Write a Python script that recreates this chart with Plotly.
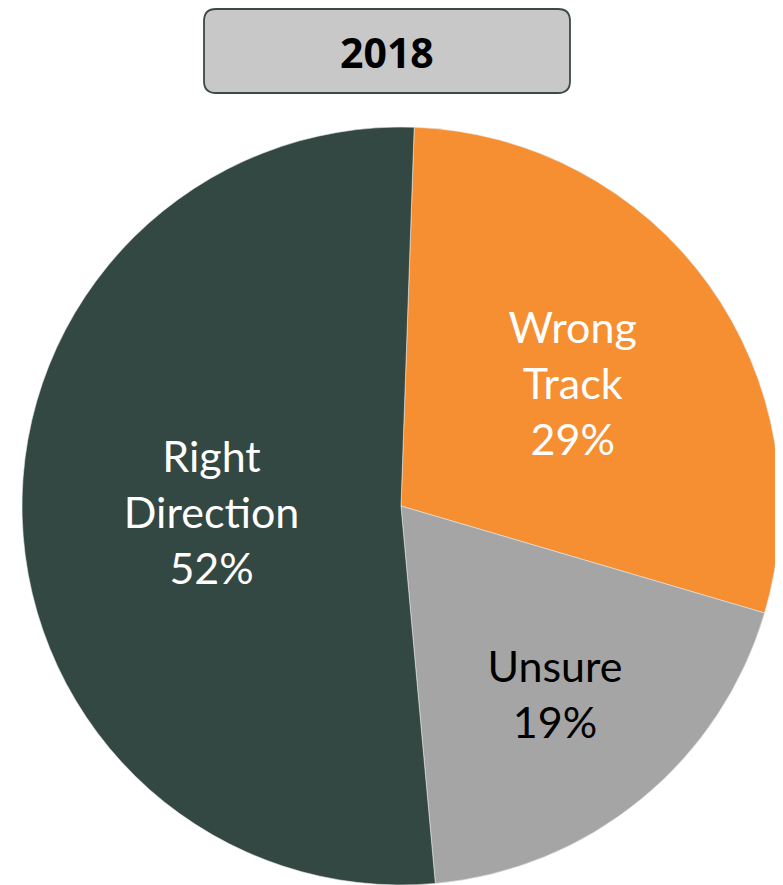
import plotly.graph_objects as go

labels = ["Wrong<br>Track", "Unsure", "Right<br>Direction"]
values = [29, 19, 52]
colors = ["#F58F32", "#A5A5A5", "#344843"]
text_colors = ["white", "black", "white"]
title_text = "2018"

# page has an 8px body margin; the figure is sized to fill the rest of the window
OFF = 8
W, H = 783 - OFF, 885 - OFF

fig = go.Figure(go.Pie(
    labels=labels,
    values=values,
    sort=False,
    direction="clockwise",
    rotation=2,
    marker=dict(colors=colors, line=dict(color="#e8e8e8", width=0.6)),
    texttemplate="%{label}<br>%{percent:.0%}",
    textposition="inside",
    insidetextorientation="horizontal",
    insidetextfont=dict(family="Lato", size=43, color=text_colors),
    hoverinfo="label+percent",
    showlegend=False,
    domain=dict(x=[(21 - OFF) / W, (781 - OFF) / W], y=[0, (885 - 127) / H]),
))

# rounded title box (page coordinates minus the offset)
x0, x1, y0, y1, r = 204 - OFF, 570 - OFF, 9 - OFF, 93 - OFF, 12
path = (f"M {x0+r},{y0} L {x1-r},{y0} Q {x1},{y0} {x1},{y0+r} "
        f"L {x1},{y1-r} Q {x1},{y1} {x1-r},{y1} L {x0+r},{y1} "
        f"Q {x0},{y1} {x0},{y1-r} L {x0},{y0+r} Q {x0},{y0} {x0+r},{y0} Z")

fig.update_layout(
    width=W, height=H,
    margin=dict(l=0, r=0, t=0, b=0),
    paper_bgcolor="white",
    plot_bgcolor="white",
    xaxis=dict(visible=False, range=[0, W]),
    yaxis=dict(visible=False, range=[H, 0]),
    shapes=[dict(type="path", path=path, xref="x", yref="y",
                 fillcolor="#C8C8C8", line=dict(color="#3A4A45", width=1.8),
                 layer="above")],
    annotations=[dict(text=f"<b>{title_text}</b>", x=(x0 + x1) / 2, y=(y0 + y1) / 2 + 1,
                      xref="x", yref="y", showarrow=False,
                      font=dict(family="Open Sans", size=41, color="black"))],
)

fig.write_html("out.html")
